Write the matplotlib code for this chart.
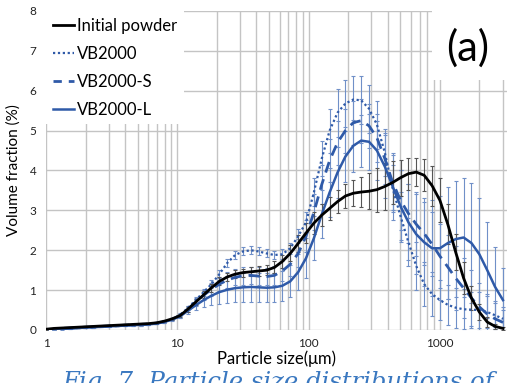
import matplotlib
matplotlib.use('Agg')
import matplotlib.pyplot as plt
from matplotlib.ticker import LogLocator, NullFormatter, FixedLocator
from matplotlib.lines import Line2D
from matplotlib.patches import Rectangle

# Particle size classes (µm)
sizes = [1.002, 1.148, 1.318, 1.514, 1.738, 1.995, 2.291, 2.630, 3.020, 3.467,
         3.981, 4.571, 5.248, 6.026, 6.918, 7.943, 9.120, 10.47, 12.02, 13.80,
         15.85, 18.20, 20.89, 23.99, 27.54, 31.62, 36.31, 41.69, 47.86, 54.95,
         63.10, 72.44, 83.18, 95.50, 109.6, 125.9, 144.5, 166.0, 190.5, 218.8,
         251.2, 288.4, 331.1, 380.2, 436.5, 501.2, 575.4, 660.7, 758.6, 871.0,
         1000, 1148, 1318, 1514, 1738, 1995, 2291, 2630, 3020]

initial = [0.02, 0.04, 0.05, 0.06, 0.07, 0.08, 0.09, 0.10, 0.11, 0.12,
           0.13, 0.14, 0.15, 0.16, 0.18, 0.22, 0.28, 0.36, 0.52, 0.70,
           0.88, 1.06, 1.22, 1.33, 1.40, 1.44, 1.46, 1.48, 1.50, 1.57,
           1.72, 1.92, 2.17, 2.43, 2.68, 2.88, 3.05, 3.22, 3.36, 3.43,
           3.46, 3.48, 3.52, 3.60, 3.70, 3.82, 3.92, 3.96, 3.88, 3.62,
           3.25, 2.65, 1.95, 1.30, 0.80, 0.45, 0.20, 0.09, 0.04]
initial_err = [0.01, 0.01, 0.01, 0.01, 0.01, 0.01, 0.01, 0.01, 0.01, 0.01,
               0.01, 0.01, 0.02, 0.02, 0.02, 0.02, 0.03, 0.04, 0.06, 0.08,
               0.09, 0.10, 0.10, 0.10, 0.10, 0.10, 0.11, 0.12, 0.13, 0.15,
               0.17, 0.20, 0.22, 0.25, 0.27, 0.28, 0.28, 0.28, 0.30, 0.33,
               0.38, 0.45, 0.55, 0.58, 0.55, 0.45, 0.40, 0.35, 0.40, 0.50,
               0.55, 0.50, 0.45, 0.40, 0.30, 0.20, 0.12, 0.06, 0.03]

vb2000 = [0.00, 0.01, 0.03, 0.04, 0.05, 0.06, 0.07, 0.08, 0.09, 0.10,
          0.11, 0.12, 0.13, 0.14, 0.16, 0.20, 0.27, 0.38, 0.55, 0.75,
          0.95, 1.15, 1.40, 1.68, 1.88, 1.97, 2.00, 1.97, 1.92, 1.88,
          1.90, 2.05, 2.35, 2.70, 3.45, 4.30, 5.00, 5.45, 5.68, 5.78,
          5.76, 5.55, 5.15, 4.45, 3.55, 2.85, 2.20, 1.60, 1.15, 0.90,
          0.75, 0.63, 0.56, 0.52, 0.51, 0.50, 0.45, 0.37, 0.28]
vb2000_err = [0.01, 0.01, 0.01, 0.01, 0.01, 0.01, 0.01, 0.01, 0.01, 0.01,
              0.01, 0.01, 0.02, 0.02, 0.02, 0.02, 0.03, 0.04, 0.06, 0.08,
              0.09, 0.10, 0.10, 0.10, 0.10, 0.10, 0.10, 0.10, 0.10, 0.10,
              0.12, 0.14, 0.18, 0.25, 0.35, 0.45, 0.55, 0.60, 0.60, 0.60,
              0.60, 0.60, 0.60, 0.60, 0.60, 0.60, 0.60, 0.60, 0.55, 0.55,
              0.50, 0.50, 0.50, 0.50, 0.45, 0.45, 0.40, 0.35, 0.30]

vb2000s = [0.00, 0.02, 0.04, 0.05, 0.06, 0.07, 0.08, 0.09, 0.10, 0.11,
           0.12, 0.13, 0.14, 0.15, 0.17, 0.21, 0.27, 0.36, 0.52, 0.70,
           0.87, 1.02, 1.15, 1.25, 1.32, 1.36, 1.37, 1.35, 1.34, 1.37,
           1.48, 1.65, 1.92, 2.35, 2.95, 3.65, 4.25, 4.70, 5.00, 5.20,
           5.25, 5.12, 4.82, 4.30, 3.70, 3.25, 2.92, 2.65, 2.42, 2.15,
           1.85, 1.58, 1.30, 1.05, 0.80, 0.58, 0.40, 0.28, 0.19]
vb2000s_err = [0.01, 0.01, 0.01, 0.01, 0.01, 0.01, 0.01, 0.01, 0.01, 0.01,
               0.01, 0.01, 0.02, 0.02, 0.02, 0.02, 0.03, 0.05, 0.07, 0.10,
               0.13, 0.16, 0.18, 0.20, 0.20, 0.22, 0.22, 0.22, 0.22, 0.24,
               0.26, 0.30, 0.35, 0.40, 0.45, 0.50, 0.55, 0.55, 0.55, 0.55,
               0.55, 0.55, 0.60, 0.65, 0.70, 0.75, 0.75, 0.80, 0.80, 0.80,
               0.80, 0.80, 0.80, 0.75, 0.70, 0.60, 0.50, 0.40, 0.30]

vb2000l = [0.00, 0.01, 0.02, 0.03, 0.05, 0.06, 0.07, 0.08, 0.09, 0.10,
           0.11, 0.12, 0.13, 0.14, 0.16, 0.20, 0.26, 0.34, 0.48, 0.62,
           0.75, 0.86, 0.95, 1.01, 1.05, 1.07, 1.08, 1.07, 1.06, 1.07,
           1.11, 1.22, 1.45, 1.80, 2.30, 2.90, 3.45, 3.95, 4.35, 4.62,
           4.75, 4.72, 4.50, 4.10, 3.60, 3.10, 2.70, 2.40, 2.20, 2.05,
           2.05, 2.18, 2.28, 2.32, 2.18, 1.90, 1.50, 1.08, 0.75]
vb2000l_err = [0.01, 0.01, 0.01, 0.01, 0.01, 0.01, 0.01, 0.01, 0.01, 0.01,
               0.01, 0.01, 0.02, 0.02, 0.02, 0.02, 0.03, 0.05, 0.08, 0.13,
               0.18, 0.24, 0.30, 0.34, 0.36, 0.37, 0.37, 0.37, 0.37, 0.37,
               0.38, 0.40, 0.45, 0.50, 0.55, 0.60, 0.62, 0.65, 0.65, 0.65,
               0.65, 0.70, 0.75, 0.80, 0.85, 0.90, 0.95, 1.00, 1.10, 1.20,
               1.30, 1.40, 1.45, 1.50, 1.50, 1.40, 1.20, 1.00, 0.80]

labels = ['Initial powder', 'VB2000', 'VB2000-S', 'VB2000-L']
x_ticks = [1, 10, 100, 1000]
x_ticklabels = ['1', '10', '100', '1000']
y_ticks = [0, 1, 2, 3, 4, 5, 6, 7, 8]

BLUE = '#2F5AA8'
BLUE_ERR = '#7090C8'
BLACK = '#000000'
BLACK_ERR = '#555555'
GRID = '#c4c4c4'

plt.rcParams['font.family'] = ['Lato', 'DejaVu Sans']

fig = plt.figure(figsize=(5.07, 3.83), dpi=100)
ax = fig.add_axes([46/507, 1-330/383, 461/507, 319/383])
ax.set_xscale('log')
ax.set_xlim(1, 3240)
ax.set_ylim(0, 8)

ax.xaxis.set_major_locator(FixedLocator(x_ticks))
ax.set_xticklabels(x_ticklabels)
ax.xaxis.set_minor_locator(LogLocator(base=10, subs=range(2, 10), numticks=20))
ax.xaxis.set_minor_formatter(NullFormatter())
ax.set_yticks(y_ticks)
ax.grid(True, which='both', axis='x', color=GRID, lw=1.0, zorder=0)
ax.grid(True, which='major', axis='y', color=GRID, lw=1.0, zorder=0)
ax.set_axisbelow(True)
for s in ax.spines.values():
    s.set_visible(False)
ax.tick_params(which='both', length=0, labelsize=8.5, colors='#222222')
ax.tick_params(axis='x', pad=6)
ax.tick_params(axis='y', pad=7)

ebkw = dict(fmt='none', elinewidth=0.8, capsize=1.6, capthick=0.8)
ax.errorbar(sizes, vb2000, yerr=vb2000_err, ecolor=BLUE_ERR, zorder=2, **ebkw)
ax.errorbar(sizes, vb2000s, yerr=vb2000s_err, ecolor=BLUE_ERR, zorder=2, **ebkw)
ax.errorbar(sizes, vb2000l, yerr=vb2000l_err, ecolor=BLUE_ERR, zorder=2, **ebkw)
ax.errorbar(sizes, initial, yerr=initial_err, ecolor=BLACK_ERR, zorder=2, **ebkw)

ax.plot(sizes, vb2000, color=BLUE, lw=1.6, linestyle=(0, (1, 1.2)), zorder=3)
ax.plot(sizes, vb2000s, color=BLUE, lw=2.0, linestyle=(0, (4, 2.5)), zorder=3)
ax.plot(sizes, vb2000l, color=BLUE, lw=1.8, zorder=3)
ax.plot(sizes, initial, color=BLACK, lw=2.0, zorder=4)

handles = [Line2D([], [], color=BLACK, lw=2.0),
           Line2D([], [], color=BLUE, lw=1.6, linestyle=(0, (1, 1.2))),
           Line2D([], [], color=BLUE, lw=2.0, linestyle=(0, (3, 2.5))),
           Line2D([], [], color=BLUE, lw=1.8)]
leg = ax.legend(handles, labels, loc='upper left', bbox_to_anchor=(0, 1),
                fontsize=12, frameon=True, fancybox=False, framealpha=1,
                facecolor='white', edgecolor='none', handlelength=1.3,
                handletextpad=0.15, labelspacing=0.72, borderpad=0.4,
                borderaxespad=0)
leg.set_zorder(6)

ax.add_patch(Rectangle((0.837, 0.784), 0.163, 0.216, transform=ax.transAxes,
                       facecolor='white', edgecolor='none', zorder=6))
ax.text(0.915, 0.884, '(a)', transform=ax.transAxes, fontsize=30,
        ha='center', va='center', zorder=7)

ax.set_xlabel('Particle size(\u03bcm)', fontsize=12, labelpad=1)
ax.set_ylabel('Volume fraction (%)', fontsize=11, labelpad=6)

fig.text(62/507, -6/383, 'Fig. 7. Particle size distributions of',
         color='#3A78C0', fontstyle='italic', family='DejaVu Serif',
         fontsize=17.5, ha='left', va='baseline')

fig.savefig('out.png', dpi=100)
